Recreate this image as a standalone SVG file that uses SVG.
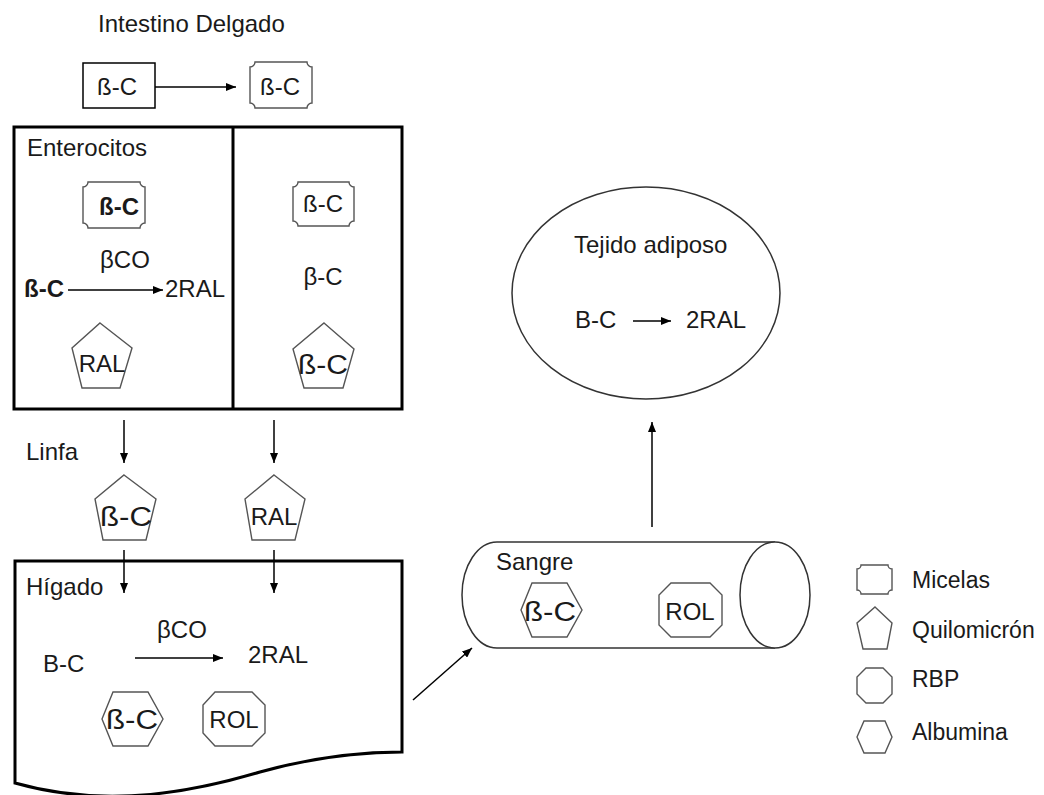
<svg xmlns="http://www.w3.org/2000/svg" width="1044" height="795" viewBox="0 0 1044 795">
<style>
text{font-family:"Liberation Sans",Arial,sans-serif;font-size:24px;fill:#1a1a1a}
.m{text-anchor:middle}
.b{font-weight:bold}
.st{font-size:27px}
.lg{font-size:23px}
.box{fill:#fff;stroke:#000;stroke-width:3}
.sh{fill:#fff;stroke:#555;stroke-width:1.4}
.org{fill:#fff;stroke:#333;stroke-width:1.5}
.ar{stroke:#000;stroke-width:1.5;fill:none;marker-end:url(#ah)}
</style>
<defs>
<marker id="ah" viewBox="0 0 10 8" refX="10" refY="4" markerWidth="10" markerHeight="8" orient="auto" markerUnits="userSpaceOnUse"><path d="M0,0 L10,4 L0,8 z" fill="#000"/></marker>
</defs>
<rect width="1044" height="795" fill="#fff"/>

<g id="intestino">
<text x="98" y="32">Intestino Delgado</text>
<rect x="83" y="63" width="72" height="45" fill="#fff" stroke="#000" stroke-width="1.5"/>
<text class="m" x="117" y="95">ß-C</text>
<path class="sh" d="M255,62 H307 A5,5 0 0 0 312,67 V103 A5,5 0 0 0 307,108 H255 A5,5 0 0 0 250,103 V67 A5,5 0 0 0 255,62 Z"/>
<text class="m" x="280" y="95">ß-C</text>
</g>

<g id="enterocitos">
<rect class="box" x="14" y="127" width="388" height="282"/>
<line x1="233" y1="127" x2="233" y2="409" stroke="#000" stroke-width="3"/>
<text x="27" y="156">Enterocitos</text>
<path class="sh" d="M88,182 H140 A5,5 0 0 0 145,187 V223 A5,5 0 0 0 140,228 H88 A5,5 0 0 0 83,223 V187 A5,5 0 0 0 88,182 Z"/>
<text class="m b" x="119" y="215">ß-C</text>
<text x="100" y="268">βCO</text>
<text class="b" x="24" y="297">ß-C</text>
<text x="165" y="297">2RAL</text>
<polygon class="sh" points="100,323 132,348 120,388 82,388 72,348"/>
<text class="m" x="102" y="372">RAL</text>
<path class="sh" d="M298,182 H349 A5,5 0 0 0 354,187 V221 A5,5 0 0 0 349,226 H298 A5,5 0 0 0 293,221 V187 A5,5 0 0 0 298,182 Z"/>
<text class="m" x="323" y="212">ß-C</text>
<text class="m" x="323" y="285">β-C</text>
<polygon class="sh" points="324,323 354,349 343,388 304,388 293,349"/>
<text class="m st" x="323" y="374" textLength="50" lengthAdjust="spacingAndGlyphs">ß-C</text>
</g>

<g id="linfa">
<text x="26" y="460">Linfa</text>
<polygon class="sh" points="124,475 156,499 146,540 103,540 95,499"/>
<text class="m st" x="126" y="526" textLength="52" lengthAdjust="spacingAndGlyphs">ß-C</text>
<polygon class="sh" points="274,475 305,499 295,540 252,540 245,499"/>
<text class="m" x="274" y="525">RAL</text>
</g>

<g id="higado">
<path class="box" d="M15,561 H402 V752 C360,752 310,758 260,772 C200,790 110,810 15,783 Z"/>
<text x="26" y="595">Hígado</text>
<text x="157" y="638">βCO</text>
<text x="43" y="672">B-C</text>
<text x="248" y="663">2RAL</text>
<polygon class="sh" points="102,719 113,692 148,692 163,719 148,746 113,746"/>
<text class="m st" x="132" y="729" textLength="52" lengthAdjust="spacingAndGlyphs">ß-C</text>
<polygon class="sh" points="215,692 252,692 265,705 265,733 252,746 215,746 203,733 203,705"/>
<text class="m" x="234" y="728">ROL</text>
</g>

<g id="sangre">
<path class="org" d="M775,542 H497 A35,53 0 0 0 497,648 H775"/>
<ellipse class="org" cx="775" cy="595" rx="35" ry="53"/>
<text x="496" y="570">Sangre</text>
<polygon class="sh" points="521,610 532,583 567,583 582,610 567,637 532,637"/>
<text class="m st" x="550" y="621" textLength="52" lengthAdjust="spacingAndGlyphs">ß-C</text>
<polygon class="sh" points="671,583 710,583 722,595 722,625 710,637 671,637 659,625 659,595"/>
<text class="m" x="690" y="620">ROL</text>
</g>

<g id="tejido">
<ellipse class="org" cx="646" cy="293" rx="134" ry="106"/>
<text x="574" y="253">Tejido adiposo</text>
<text x="575" y="328">B-C</text>
<text x="686" y="328">2RAL</text>
</g>

<g id="leyenda">
<path class="sh" d="M861,565 H888 A4,4 0 0 0 892,569 V590 A4,4 0 0 0 888,594 H861 A4,4 0 0 0 857,590 V569 A4,4 0 0 0 861,565 Z"/>
<text class="lg" x="912" y="588">Micelas</text>
<polygon class="sh" points="875,607 892,623 887,649 863,649 857,623"/>
<text class="lg" x="912" y="638">Quilomicrón</text>
<polygon class="sh" points="866,668 883,668 892,677 892,694 883,703 866,703 857,694 857,677"/>
<text class="lg" x="912" y="687">RBP</text>
<polygon class="sh" points="857,737 864,721 885,721 892,737 885,753 864,753"/>
<text class="lg" x="912" y="740">Albumina</text>
</g>

<g id="connectors">
<line class="ar" x1="155" y1="87" x2="236" y2="87"/>
<line class="ar" x1="68" y1="290" x2="163" y2="290"/>
<line class="ar" x1="124" y1="420" x2="124" y2="463"/>
<line class="ar" x1="274" y1="420" x2="274" y2="463"/>
<line class="ar" x1="124" y1="550" x2="124" y2="593"/>
<line class="ar" x1="274" y1="550" x2="274" y2="593"/>
<line class="ar" x1="135" y1="658" x2="223" y2="658"/>
<line class="ar" x1="413" y1="700" x2="472" y2="648"/>
<line class="ar" x1="652" y1="527" x2="652" y2="422"/>
<line class="ar" x1="633" y1="321" x2="671" y2="321"/>
</g>
</svg>
